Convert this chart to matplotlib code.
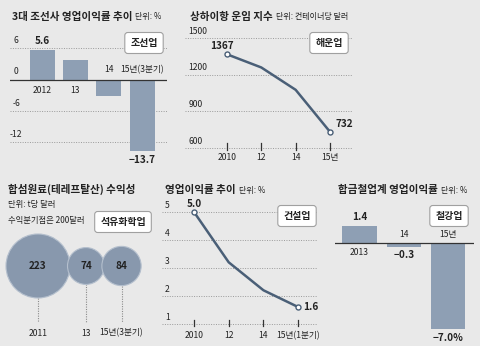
import numpy as np
import matplotlib
matplotlib.use("Agg")
import matplotlib.pyplot as plt
from matplotlib.patches import Circle
from matplotlib.transforms import blended_transform_factory

plt.rcParams["font.family"] = ["Noto Sans CJK KR", "DejaVu Sans"]

# --- data -------------------------------------------------------------
ship_years = ["2012", "13", "14", "15년(3분기)"]
ship_margin = [5.6, 3.7, -3.2, -13.7]
ship_ticks = [6, 0, -6, -12]

freight_years = ["2010", "12", "14", "15년"]
freight_index = [1367, 1259, 1076, 732]
freight_ticks = [1500, 1200, 900, 600]

pta_years = ["2011", "13", "15년(3분기)"]
pta_profit = [223, 74, 84]

build_years = ["2010", "12", "14", "15년(1분기)"]
build_margin = [5.0, 3.2, 2.2, 1.6]
build_ticks = [5, 4, 3, 2, 1]

alloy_years = ["2013", "14", "15년"]
alloy_margin = [1.4, -0.3, -7.0]

BG = "#e9e9e9"
BAR = "#8e9fb4"
LINE = "#4a5f77"
BUB = "#8898ad"
GRID = "#9a9a9a"
TXT = "#222222"
TICK = 6.2

W, H = 480, 346
fig = plt.figure(figsize=(W / 100, H / 100), dpi=100, facecolor=BG)


def px_axes(x0, y0, x1, y1):
    ax = fig.add_axes([x0 / W, 1 - y1 / H, (x1 - x0) / W, (y1 - y0) / H])
    ax.set_facecolor("none")
    ax.axis("off")
    return ax


def ftext(x, y, s, **kw):
    fig.text(x / W, 1 - y / H, s, **kw)


def title(x, y, main, unit, size=7.6):
    t = fig.text(x / W, 1 - y / H, main, fontsize=size, fontweight="bold",
                 color=TXT, va="center", ha="left")
    fig.canvas.draw()
    bb = t.get_window_extent()
    fig.text(bb.x1 / W + 0.006, 1 - y / H, unit, fontsize=5.8,
             color=TXT, va="center", ha="left")


def tag(x, y, s):
    ftext(x, y, s, fontsize=7.2, fontweight="bold", color=TXT, ha="center",
          va="center",
          bbox=dict(boxstyle="round,pad=0.55,rounding_size=0.3", fc="white",
                    ec="#a0a0a0", lw=0.8))


def hgrid(ax, vals, x0, x1):
    for v in vals:
        ax.plot([x0, x1], [v, v], color=GRID, lw=0.7, ls=(0, (1, 1.5)))


# --- panel 1: shipbuilding bars ---------------------------------------
ax1 = px_axes(10, 30, 167, 162)
x1 = np.arange(len(ship_years))
ax1.set_xlim(-0.96, 3.74)
ax1.set_ylim(-15.8, 9.5)
hgrid(ax1, [t for t in ship_ticks if t != 0], -0.96, 3.74)
ax1.bar(x1, ship_margin, width=0.75, color=BAR, zorder=2)
ax1.axhline(0, color="#333333", lw=0.9, zorder=3)
tr1 = blended_transform_factory(ax1.transAxes, ax1.transData)
for t in ship_ticks:
    ax1.text(0.04, t + 0.6, f"{t}", transform=tr1,
             fontsize=TICK, color=TXT, ha="center", va="bottom")
for i, (lab, v) in enumerate(zip(ship_years, ship_margin)):
    if v >= 0:
        ax1.text(i, -1.2, lab, fontsize=TICK, color=TXT, ha="center", va="top")
    else:
        ax1.text(i, 1.0, lab, fontsize=TICK, color=TXT, ha="center",
                 va="bottom")
ax1.text(0, ship_margin[0] + 0.8, f"{ship_margin[0]}", fontsize=7.2,
         fontweight="bold", color=TXT, ha="center", va="bottom")
ax1.text(3, ship_margin[3] - 0.8, f"−{abs(ship_margin[3])}", fontsize=7.2,
         fontweight="bold", color=TXT, ha="center", va="top")
title(12, 17, "3대 조선사 영업이익률 추이", "단위: %")
tag(144, 43, "조선업")

# --- panel 2: Shanghai freight index line -----------------------------
ax2 = px_axes(185, 28, 352, 152)
x2 = np.arange(len(freight_years))
ax2.set_xlim(-1.22, 3.64)
ax2.set_ylim(567, 1582)
hgrid(ax2, freight_ticks, -1.22, 3.64)
tr2 = blended_transform_factory(ax2.transAxes, ax2.transData)
for t in freight_ticks:
    ax2.text(0.02, t + 20, f"{t}", transform=tr2, fontsize=TICK, color=TXT,
             ha="left", va="bottom")
for i, lab in enumerate(freight_years):
    ax2.plot([i, i], [585, 640], color="#333333", lw=0.9)
    ax2.text(i, 560, lab, fontsize=TICK, color=TXT, ha="center", va="top",
             clip_on=False)
ax2.plot(x2, freight_index, color=LINE, lw=1.8, zorder=3)
ax2.plot([x2[0], x2[-1]], [freight_index[0], freight_index[-1]], "o",
         ms=3.6, mfc="white", mec=LINE, mew=1.0, zorder=4)
ax2.text(-0.15, freight_index[0] + 25, f"{freight_index[0]}", fontsize=7.2,
         fontweight="bold", color=TXT, ha="center", va="bottom")
ax2.text(3.15, freight_index[-1] + 20, f"{freight_index[-1]}", fontsize=7.2,
         fontweight="bold", color=TXT, ha="left", va="bottom")
title(190, 17, "상하이항 운임 지수", "단위: 컨테이너당 달러")
tag(329, 43, "해운업")

# --- panel 3: PTA profitability bubbles --------------------------------
ax3 = px_axes(0, 228, 160, 346)
ax3.set_xlim(0, 160)
ax3.set_ylim(346, 228)
k = 32 / np.sqrt(max(pta_profit))
radii = [k * np.sqrt(v) for v in pta_profit]
cx = []
for i, r in enumerate(radii):
    cx.append(6 + r if i == 0 else cx[-1] + radii[i - 1] + r - 2.5)
cy = 266
for c, r, v, lab in zip(cx, radii, pta_profit, pta_years):
    ax3.plot([c, c], [cy + r, 322], color="#8a8a8a", lw=0.8, ls=(0, (1, 1.2)))
    ax3.add_patch(Circle((c, cy), r, fc=BUB, ec="#b4bfcd", lw=0.8, zorder=2))
    ax3.text(c, cy, f"{v}", fontsize=7.2, fontweight="bold", color=TXT,
             ha="center", va="center", zorder=3)
    ax3.text(c, 333, lab, fontsize=TICK, color=TXT, ha="center", va="center")
ftext(8, 189, "합섬원료(테레프탈산) 수익성", fontsize=7.6, fontweight="bold",
      color=TXT, va="center")
ftext(8, 205, "단위: t당 달러", fontsize=6, color=TXT, va="center")
ftext(8, 220, "수익분기점은 200달러", fontsize=6, color=TXT, va="center")
tag(123, 222, "석유화학업")

# --- panel 4: construction margin line ---------------------------------
ax4 = px_axes(162, 196, 318, 330)
x4 = np.arange(len(build_years))
ax4.set_xlim(-0.92, 3.57)
ax4.set_ylim(0.78, 5.57)
hgrid(ax4, build_ticks, -0.92, 3.57)
tr4 = blended_transform_factory(ax4.transAxes, ax4.transData)
for t in build_ticks:
    ax4.text(0.02, t + 0.08, f"{t}", transform=tr4, fontsize=TICK, color=TXT,
             ha="left", va="bottom")
for i, lab in enumerate(build_years):
    ax4.plot([i, i], [0.92, 1.12], color="#333333", lw=0.9)
    ax4.text(i, 0.75, lab, fontsize=TICK, color=TXT, ha="center", va="top",
             clip_on=False)
ax4.plot(x4, build_margin, color=LINE, lw=1.8, zorder=3)
ax4.plot([x4[0], x4[-1]], [build_margin[0], build_margin[-1]], "o",
         ms=3.6, mfc="white", mec=LINE, mew=1.0, zorder=4)
ax4.text(0, build_margin[0] + 0.12, f"{build_margin[0]:.1f}", fontsize=7.2,
         fontweight="bold", color=TXT, ha="center", va="bottom")
ax4.text(3.15, build_margin[-1], f"{build_margin[-1]}", fontsize=7.2,
         fontweight="bold", color=TXT, ha="left", va="center")
title(165, 190, "영업이익률 추이", "단위: %")
tag(297, 216, "건설업")

# --- panel 5: ferroalloy bars ------------------------------------------
ax5 = px_axes(335, 215, 474, 335)
x5 = np.arange(len(alloy_years))
ax5.set_xlim(-0.55, 2.58)
ax5.set_ylim(-7.48, 2.28)
ax5.bar(x5, alloy_margin, width=0.77, color=BAR, zorder=2)
ax5.axhline(0, color="#333333", lw=0.9, zorder=3)
for i, (lab, v) in enumerate(zip(alloy_years, alloy_margin)):
    if v >= 0:
        ax5.text(i, -0.4, lab, fontsize=TICK, color=TXT, ha="center",
                 va="top")
        ax5.text(i, v + 0.3, f"{v}", fontsize=7.2, fontweight="bold",
                 color=TXT, ha="center", va="bottom")
    else:
        ax5.text(i, 0.35, lab, fontsize=TICK, color=TXT, ha="center",
                 va="bottom")
        s = f"−{abs(v)}" + ("%" if i == len(alloy_years) - 1 else "")
        ax5.text(i, v - 0.3, s, fontsize=7.2, fontweight="bold", color=TXT,
                 ha="center", va="top", clip_on=False)
title(338, 190, "합금철업계 영업이익률", "단위: %")
tag(449, 216, "철강업")

fig.savefig("out.png", dpi=100, facecolor=BG)
